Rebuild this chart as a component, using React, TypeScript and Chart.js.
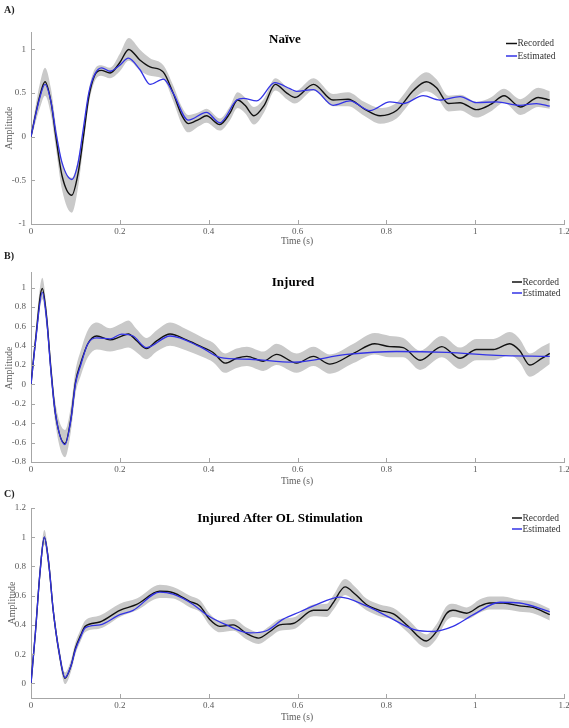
import React, { useEffect, useRef } from 'react';
import { Chart, registerables } from 'chart.js';

Chart.register(...registerables);

const FONT = '"Liberation Serif", "Times New Roman", "DejaVu Serif", serif';
const AXIS_COLOR = '#a6a6a6';
const TICK_COLOR = '#5a5a5a';
const BAND_COLOR = '#c9c9c9';
const REC_COLOR = '#111111';
const EST_COLOR = '#3333e6';

const xTicks = [0, 0.2, 0.4, 0.6, 0.8, 1, 1.2];

// ---------- Panel A: Naïve ----------
const aYTicks = [-1, -0.5, 0, 0.5, 1];
const aRecT = [0, 0.01, 0.02, 0.0315, 0.045, 0.056, 0.07, 0.092, 0.106, 0.118, 0.13, 0.143, 0.158, 0.178, 0.2, 0.22, 0.245, 0.268, 0.298, 0.32, 0.339, 0.354, 0.378, 0.395, 0.425, 0.448, 0.465, 0.482, 0.502, 0.525, 0.55, 0.576, 0.594, 0.636, 0.68, 0.714, 0.75, 0.786, 0.823, 0.861, 0.89, 0.913, 0.94, 0.966, 1.003, 1.035, 1.065, 1.102, 1.142, 1.168];
const aRecY = [0, 0.25, 0.47, 0.63, 0.4, 0.0, -0.45, -0.67, -0.42, 0.0, 0.45, 0.7, 0.76, 0.73, 0.85, 1.0, 0.88, 0.8, 0.74, 0.5, 0.25, 0.15, 0.2, 0.24, 0.14, 0.27, 0.42, 0.36, 0.24, 0.36, 0.6, 0.5, 0.45, 0.6, 0.42, 0.43, 0.32, 0.24, 0.3, 0.53, 0.63, 0.56, 0.38, 0.39, 0.31, 0.37, 0.47, 0.34, 0.45, 0.42];
const aRecSd = [0.03, 0.09, 0.14, 0.16, 0.15, 0.13, 0.16, 0.2, 0.16, 0.1, 0.08, 0.07, 0.06, 0.06, 0.1, 0.13, 0.12, 0.1, 0.08, 0.09, 0.1, 0.1, 0.08, 0.08, 0.07, 0.08, 0.09, 0.09, 0.1, 0.08, 0.07, 0.07, 0.07, 0.07, 0.07, 0.08, 0.08, 0.09, 0.09, 0.1, 0.11, 0.1, 0.09, 0.09, 0.09, 0.08, 0.08, 0.09, 0.11, 0.1];
const aEstT = [0, 0.01, 0.02, 0.0315, 0.045, 0.056, 0.07, 0.092, 0.106, 0.118, 0.13, 0.144, 0.159, 0.178, 0.2, 0.219, 0.245, 0.268, 0.298, 0.32, 0.354, 0.395, 0.425, 0.463, 0.478, 0.508, 0.549, 0.583, 0.598, 0.636, 0.68, 0.718, 0.763, 0.808, 0.838, 0.883, 0.92, 0.966, 1.003, 1.048, 1.1, 1.138, 1.168];
const aEstY = [0, 0.24, 0.45, 0.6, 0.4, 0.05, -0.3, -0.49, -0.3, 0.1, 0.5, 0.72, 0.79, 0.75, 0.82, 0.9, 0.77, 0.6, 0.66, 0.5, 0.19, 0.28, 0.16, 0.42, 0.44, 0.41, 0.62, 0.55, 0.52, 0.54, 0.36, 0.41, 0.3, 0.4, 0.38, 0.47, 0.42, 0.46, 0.39, 0.4, 0.36, 0.38, 0.35];

// ---------- Panel B: Injured ----------
const bYTicks = [-0.8, -0.6, -0.4, -0.2, 0, 0.2, 0.4, 0.6, 0.8, 1];
const bRecT = [0, 0.01, 0.0255, 0.035, 0.045, 0.055, 0.0765, 0.09, 0.1, 0.112, 0.128, 0.148, 0.178, 0.2, 0.219, 0.238, 0.26, 0.283, 0.313, 0.35, 0.388, 0.41, 0.437, 0.463, 0.486, 0.523, 0.553, 0.598, 0.636, 0.673, 0.726, 0.774, 0.808, 0.838, 0.876, 0.925, 0.966, 1.003, 1.041, 1.078, 1.1, 1.123, 1.15, 1.168];
const bRecY = [0, 0.45, 0.99, 0.7, 0.15, -0.3, -0.61, -0.35, 0.02, 0.22, 0.42, 0.5, 0.46, 0.49, 0.52, 0.45, 0.37, 0.45, 0.52, 0.46, 0.38, 0.33, 0.22, 0.27, 0.29, 0.24, 0.31, 0.22, 0.29, 0.21, 0.32, 0.42, 0.39, 0.38, 0.25, 0.39, 0.27, 0.36, 0.36, 0.42, 0.35, 0.2, 0.27, 0.32];
const bRecSd = [0.03, 0.08, 0.11, 0.1, 0.1, 0.11, 0.14, 0.13, 0.12, 0.13, 0.14, 0.14, 0.12, 0.13, 0.14, 0.12, 0.11, 0.11, 0.12, 0.11, 0.1, 0.1, 0.1, 0.1, 0.1, 0.1, 0.11, 0.1, 0.1, 0.1, 0.1, 0.11, 0.11, 0.1, 0.1, 0.11, 0.11, 0.11, 0.11, 0.12, 0.12, 0.12, 0.12, 0.11];
const bEstT = [0, 0.01, 0.0255, 0.035, 0.045, 0.055, 0.0765, 0.09, 0.1, 0.112, 0.128, 0.148, 0.178, 0.204, 0.23, 0.26, 0.313, 0.38, 0.425, 0.493, 0.59, 0.711, 0.823, 0.936, 1.048, 1.168];
const bEstY = [0, 0.43, 0.95, 0.68, 0.13, -0.3, -0.62, -0.36, 0.0, 0.2, 0.42, 0.48, 0.47, 0.52, 0.5, 0.38, 0.5, 0.39, 0.28, 0.26, 0.23, 0.31, 0.34, 0.33, 0.3, 0.29];

// ---------- Panel C: Injured After OL Stimulation ----------
const cYTicks = [0, 0.2, 0.4, 0.6, 0.8, 1, 1.2];
const cRecT = [0, 0.01, 0.02, 0.03, 0.04, 0.05, 0.064, 0.0765, 0.09, 0.1, 0.112, 0.122, 0.155, 0.2, 0.238, 0.29, 0.32, 0.358, 0.38, 0.403, 0.425, 0.455, 0.486, 0.512, 0.538, 0.56, 0.59, 0.636, 0.666, 0.68, 0.707, 0.73, 0.755, 0.785, 0.816, 0.846, 0.89, 0.913, 0.936, 0.95, 0.981, 1.011, 1.033, 1.063, 1.1, 1.13, 1.168];
const cRecY = [0, 0.35, 0.75, 1.0, 0.82, 0.5, 0.2, 0.035, 0.12, 0.24, 0.33, 0.39, 0.42, 0.5, 0.54, 0.63, 0.62, 0.56, 0.53, 0.435, 0.39, 0.4, 0.34, 0.31, 0.355, 0.4, 0.41, 0.5, 0.5, 0.55, 0.66, 0.61, 0.54, 0.5, 0.475, 0.4, 0.29, 0.355, 0.48, 0.5, 0.48, 0.53, 0.55, 0.55, 0.53, 0.52, 0.47];
const cRecSd = [0.02, 0.04, 0.05, 0.05, 0.05, 0.04, 0.04, 0.04, 0.04, 0.04, 0.04, 0.04, 0.045, 0.045, 0.04, 0.045, 0.04, 0.04, 0.04, 0.04, 0.04, 0.04, 0.04, 0.04, 0.04, 0.04, 0.04, 0.04, 0.045, 0.05, 0.055, 0.05, 0.04, 0.04, 0.04, 0.045, 0.045, 0.05, 0.05, 0.045, 0.04, 0.045, 0.045, 0.045, 0.04, 0.04, 0.04];
const cEstT = [0, 0.01, 0.02, 0.03, 0.04, 0.05, 0.064, 0.0765, 0.09, 0.1, 0.112, 0.122, 0.155, 0.2, 0.23, 0.29, 0.32, 0.365, 0.395, 0.44, 0.493, 0.53, 0.568, 0.606, 0.636, 0.696, 0.755, 0.808, 0.861, 0.906, 0.95, 0.996, 1.056, 1.1, 1.168];
const cEstY = [0, 0.35, 0.75, 1.0, 0.82, 0.5, 0.2, 0.04, 0.12, 0.23, 0.32, 0.38, 0.4, 0.47, 0.5, 0.625, 0.61, 0.54, 0.47, 0.4, 0.345, 0.36, 0.44, 0.49, 0.53, 0.59, 0.53, 0.45, 0.37, 0.355, 0.39, 0.47, 0.555, 0.55, 0.49];

type PanelCfg = {
  label: string;
  title: string;
  top: number;
  height: number;
  areaTop: number;
  areaBottom: number;
  yMin: number;
  yMax: number;
  yTicks: number[];
  recT: number[];
  recY: number[];
  recSd: number[];
  estT: number[];
  estY: number[];
  titleX: number;
  titleY: number;
  labelY: number;
  legX1: number;
  legX2: number;
  legY1: number;
  legY2: number;
  ampX: number;
  ampY: number;
  timeY: number;
};

const panels: PanelCfg[] = [
  {
    label: 'A)', title: 'Naïve', top: 0, height: 248, areaTop: 32, areaBottom: 224,
    yMin: -1, yMax: 1.2, yTicks: aYTicks,
    recT: aRecT, recY: aRecY, recSd: aRecSd, estT: aEstT, estY: aEstY,
    titleX: 285, titleY: 40, labelY: 10, legX1: 506, legX2: 517, legY1: 43.5, legY2: 56,
    ampX: 9, ampY: 128, timeY: 241,
  },
  {
    label: 'B)', title: 'Injured', top: 248, height: 240, areaTop: 24, areaBottom: 214,
    yMin: -0.8, yMax: 1.16, yTicks: bYTicks,
    recT: bRecT, recY: bRecY, recSd: bRecSd, estT: bEstT, estY: bEstY,
    titleX: 293, titleY: 35, labelY: 8, legX1: 512, legX2: 522, legY1: 34, legY2: 45,
    ampX: 9, ampY: 120, timeY: 233,
  },
  {
    label: 'C)', title: 'Injured After OL Stimulation', top: 488, height: 240, areaTop: 20, areaBottom: 210,
    yMin: -0.1, yMax: 1.2, yTicks: cYTicks,
    recT: cRecT, recY: cRecY, recSd: cRecSd, estT: cEstT, estY: cEstY,
    titleX: 280, titleY: 31, labelY: 6, legX1: 512, legX2: 522, legY1: 30, legY2: 41,
    ampX: 12, ampY: 115, timeY: 229,
  },
];

function makeDecor(p: PanelCfg) {
  return {
    id: 'decor' + p.label,
    afterDraw(chart: any) {
      const ctx: CanvasRenderingContext2D = chart.ctx;
      const { left, bottom } = chart.chartArea;
      const xs = chart.scales.x;
      const ys = chart.scales.y;
      ctx.save();
      // inward tick marks
      ctx.strokeStyle = AXIS_COLOR;
      ctx.lineWidth = 1;
      xs.ticks.forEach((t: any) => {
        const px = Math.round(xs.getPixelForValue(t.value)) + 0.5;
        ctx.beginPath();
        ctx.moveTo(px, bottom);
        ctx.lineTo(px, bottom - 4);
        ctx.stroke();
      });
      ys.ticks.forEach((t: any) => {
        const py = Math.round(ys.getPixelForValue(t.value)) + 0.5;
        ctx.beginPath();
        ctx.moveTo(left, py);
        ctx.lineTo(left + 4, py);
        ctx.stroke();
      });
      // panel label
      ctx.fillStyle = '#222';
      ctx.font = `bold 10px ${FONT}`;
      ctx.textAlign = 'left';
      ctx.textBaseline = 'middle';
      ctx.fillText(p.label, 4, p.labelY);
      // title
      ctx.fillStyle = '#000';
      ctx.font = `bold 13px ${FONT}`;
      ctx.textAlign = 'center';
      ctx.fillText(p.title, p.titleX, p.titleY);
      // legend
      ctx.font = `9.5px ${FONT}`;
      ctx.textAlign = 'left';
      ctx.lineWidth = 1.5;
      ctx.strokeStyle = REC_COLOR;
      ctx.beginPath();
      ctx.moveTo(p.legX1, p.legY1);
      ctx.lineTo(p.legX2, p.legY1);
      ctx.stroke();
      ctx.strokeStyle = EST_COLOR;
      ctx.beginPath();
      ctx.moveTo(p.legX1, p.legY2);
      ctx.lineTo(p.legX2, p.legY2);
      ctx.stroke();
      ctx.fillStyle = '#333';
      ctx.fillText('Recorded', p.legX2 + 0.5, p.legY1);
      ctx.fillText('Estimated', p.legX2 + 0.5, p.legY2);
      // axis titles
      ctx.fillStyle = TICK_COLOR;
      ctx.font = `9.5px ${FONT}`;
      ctx.textAlign = 'center';
      ctx.fillText('Time (s)', 297, p.timeY);
      ctx.save();
      ctx.translate(p.ampX, p.ampY);
      ctx.rotate(-Math.PI / 2);
      ctx.font = `10px ${FONT}`;
      ctx.fillText('Amplitude', 0, 0);
      ctx.restore();
      ctx.restore();
    },
  };
}

function Panel({ p }: { p: PanelCfg }) {
  const ref = useRef<HTMLCanvasElement | null>(null);
  useEffect(() => {
    if (!ref.current) return;
    const rec = p.recT.map((t, i) => ({ x: t, y: p.recY[i] }));
    const lower = p.recT.map((t, i) => ({ x: t, y: p.recY[i] - p.recSd[i] }));
    const upper = p.recT.map((t, i) => ({ x: t, y: p.recY[i] + p.recSd[i] }));
    const est = p.estT.map((t, i) => ({ x: t, y: p.estY[i] }));
    const xH = p.height - p.areaBottom;
    const tickFont = { family: FONT, size: 9 };
    const chart = new Chart(ref.current, {
      type: 'line',
      data: {
        datasets: [
          { label: 'lower', data: lower, borderWidth: 0, pointRadius: 0, fill: false, order: 3, cubicInterpolationMode: 'monotone', borderColor: 'rgba(0,0,0,0)' },
          { label: 'upper', data: upper, borderWidth: 0, pointRadius: 0, fill: '-1', backgroundColor: BAND_COLOR, order: 3, cubicInterpolationMode: 'monotone', borderColor: 'rgba(0,0,0,0)' },
          { label: 'Recorded', data: rec, borderColor: REC_COLOR, borderWidth: 1.4, pointRadius: 0, fill: false, order: 2, cubicInterpolationMode: 'monotone' },
          { label: 'Estimated', data: est, borderColor: EST_COLOR, borderWidth: 1.3, pointRadius: 0, fill: false, order: 1, cubicInterpolationMode: 'monotone' },
        ],
      } as any,
      options: {
        responsive: false,
        animation: false,
        events: [],
        layout: { padding: { left: 0, right: 5, top: p.areaTop, bottom: 0 } },
        plugins: { legend: { display: false }, tooltip: { enabled: false }, title: { display: false } },
        scales: {
          x: {
            type: 'linear',
            min: 0,
            max: 1.2,
            afterBuildTicks: (s: any) => { s.ticks = xTicks.map((v) => ({ value: v })); },
            afterFit: (s: any) => { s.height = xH; s.paddingLeft = 0; s.paddingRight = 0; },
            ticks: { callback: (v: any) => String(v), font: tickFont, color: TICK_COLOR, padding: 2, maxRotation: 0, autoSkip: false },
            grid: { display: false, drawTicks: false },
            border: { display: true, color: AXIS_COLOR, width: 1 },
          },
          y: {
            type: 'linear',
            min: p.yMin,
            max: p.yMax,
            afterBuildTicks: (s: any) => { s.ticks = p.yTicks.map((v) => ({ value: v })); },
            afterFit: (s: any) => { s.width = 31; s.paddingTop = 0; s.paddingBottom = 0; },
            ticks: { callback: (v: any) => String(v), font: tickFont, color: TICK_COLOR, padding: 5, autoSkip: false },
            grid: { display: false, drawTicks: false },
            border: { display: true, color: AXIS_COLOR, width: 1 },
          },
        },
      } as any,
      plugins: [makeDecor(p)],
    });
    return () => chart.destroy();
  }, [p]);
  return (
    <canvas
      ref={ref}
      width={569}
      height={p.height}
      style={{ position: 'absolute', left: 0, top: p.top, display: 'block' }}
    />
  );
}

export default function App() {
  return (
    <div style={{ position: 'absolute', left: 0, top: 0, width: 569, height: 728, background: '#fff' }}>
      {panels.map((p) => (
        <Panel key={p.label} p={p} />
      ))}
    </div>
  );
}
